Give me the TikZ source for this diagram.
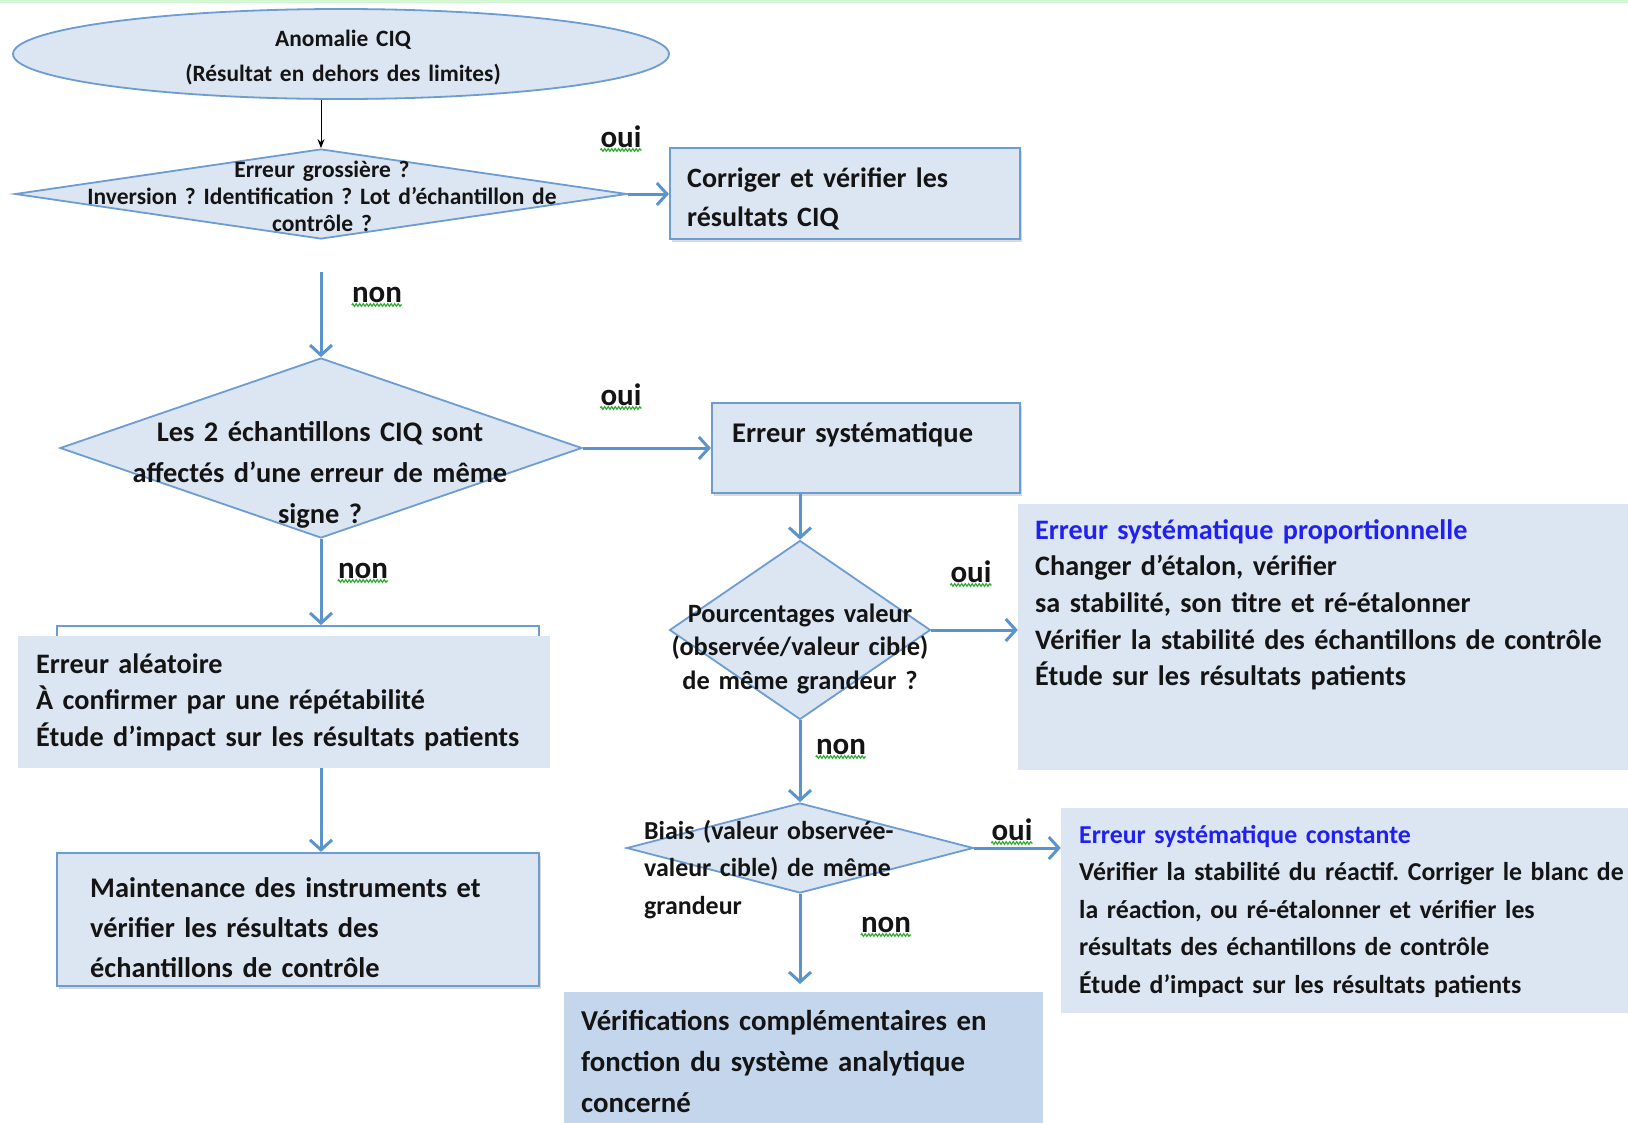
\documentclass[tikz,border=0pt]{standalone}
\usepackage{fontspec}
\setmainfont{Carlito}
\usetikzlibrary{shapes.geometric,arrows.meta,shadows,decorations.pathmorphing}
\definecolor{boxfill}{HTML}{DCE6F2}
\definecolor{boxline}{HTML}{6C9CD2}
\definecolor{arrowc}{HTML}{5B93CC}
\definecolor{verfill}{HTML}{C3D6EC}
\definecolor{bluetxt}{HTML}{2020F0}
\definecolor{spellg}{HTML}{2EAA2E}
\definecolor{topband}{HTML}{D4F7D4}
\definecolor{txtc}{HTML}{141414}
\newcommand\fsz[2]{\fontsize{#1}{#2}\selectfont\bfseries\frenchspacing}
\begin{document}
\frenchspacing
\begin{tikzpicture}[x=1pt,y=-1pt,
  boxst/.style={rectangle, draw=boxline, line width=2.2pt, fill=boxfill, inner sep=0,
    drop shadow={shadow xshift=1.5pt, shadow yshift=-2.5pt, opacity=0.25, fill=black!60}},
  plainbox/.style={rectangle, fill=boxfill, inner sep=0},
  diast/.style={diamond, draw=boxline, line width=1.8pt, fill=boxfill, inner sep=0},
  ellst/.style={ellipse, draw=boxline, line width=1.8pt, fill=boxfill, inner sep=0},
  arr/.style={draw=arrowc, line width=3pt, -{Straight Barb[length=10pt,width=22pt]}},
  thinarr/.style={draw=black, line width=1pt, -{Stealth[length=9pt,width=7pt]}},
  ltxt/.style={inner sep=0, text=txtc, anchor=base west, align=left, text width=#1},
  ctxt/.style={inner sep=0, text=txtc, anchor=base, align=center, text width=#1},
  lbl/.style={inner sep=0, text=txtc, anchor=base, font=\fsz{31}{34}},
  spell/.style={draw=spellg, line width=1.2pt, decorate, decoration={zigzag, segment length=3.5pt, amplitude=1.3pt}}
]
\useasboundingbox (0,0) rectangle (1628,1122);
\fill[topband] (0,0) rectangle (1628,3);

% shapes
\node[ellst, minimum width=656, minimum height=90] (e) at (341,54) {};
\node[diast, minimum width=612, minimum height=90] (d1) at (321,194) {};
\node[boxst, minimum width=350, minimum height=91] (corr) at (845,193.5) {};
\node[diast, minimum width=522, minimum height=180] (d2) at (321,448) {};
\node[boxst, minimum width=308, minimum height=90] (syst) at (866,448) {};
\node[diast, minimum width=261, minimum height=179] (d3) at (800,630) {};
\node[plainbox, minimum width=610, minimum height=266] (prop) at (1323,637) {};
\node[diast, minimum width=347, minimum height=90] (d4) at (800,848) {};
\node[plainbox, minimum width=567, minimum height=205] (const) at (1344.5,910.5) {};
\node[rectangle, fill=verfill, inner sep=0, minimum width=479, minimum height=136] (verif) at (803.5,1060) {};
\node[plainbox, minimum width=532, minimum height=132] (alea) at (284,702) {};
\draw[boxline, line width=2.2pt] (57,636) -- (57,626) -- (539,626) -- (539,636);
\coordinate (aleatop) at (321,625);
\node[boxst, minimum width=482, minimum height=133] (maint) at (298,919.5) {};

% texts
\node[ctxt=640, font=\fsz{23.4}{35}] (et) at (343,46) {Anomalie CIQ\\(Résultat en dehors des limites)};
\node[ctxt=640, font=\fsz{23.5}{27}] (d1t) at (322,177) {Erreur grossière ?\\Inversion ? Identification ? Lot d’échantillon de\\contrôle ?};
\node[ltxt=340, font=\fsz{28}{39}] (corrt) at (687,187) {Corriger et vérifier les\\résultats CIQ};
\node[ctxt=560, font=\fsz{28.4}{41}] (d2t) at (320,441) {Les 2 échantillons CIQ sont\\affectés d’une erreur de même\\signe ?};
\node[ltxt=290, font=\fsz{28.5}{30}] (systt) at (732,442) {Erreur systématique};
\node[ctxt=300, font=\fsz{26.4}{33.5}] (d3t) at (800,622) {Pourcentages valeur\\(observée/valeur cible)\\de même grandeur ?};
\node[ltxt=600, font=\fsz{28.2}{36.7}] (propt) at (1035,539) {\textcolor{bluetxt}{Erreur systématique proportionnelle}\\Changer d’étalon, vérifier\\sa stabilité, son titre et ré-étalonner\\Vérifier la stabilité des échantillons de contrôle\\Étude sur les résultats patients};
\node[ltxt=360, font=\fsz{25.9}{37.5}] (d4t) at (644,839) {Biais (valeur observée-\\valeur cible) de même\\grandeur};
\node[ltxt=560, font=\fsz{25.8}{37.5}] (constt) at (1079,843) {\textcolor{bluetxt}{Erreur systématique constante}\\Vérifier la stabilité du réactif. Corriger le blanc de\\la réaction, ou ré-étalonner et vérifier les\\résultats des échantillons de contrôle\\Étude d’impact sur les résultats patients};
\node[ltxt=470, font=\fsz{28.8}{41}] (verift) at (581,1030) {Vérifications complémentaires en\\fonction du système analytique\\concerné};
\node[ltxt=530, font=\fsz{28.2}{36.5}] (aleat) at (36,673) {Erreur aléatoire\\À confirmer par une répétabilité\\Étude d’impact sur les résultats patients};
\node[ltxt=470, font=\fsz{28.4}{40}] (maintt) at (90,897) {Maintenance des instruments et\\vérifier les résultats des\\échantillons de contrôle};

% connectors
\coordinate (n1start) at (321,272);
\coordinate (verifend) at (800,984);
\draw[thinarr] (e.south -| d1.north) -- (d1.north);
\draw[arr] (d1.east) -- (d1.east -| corr.west);
\draw[arr] (n1start) -- (d2.north);
\draw[arr] (d2.east) -- (syst.west);
\draw[arr] (d3.north |- syst.south) -- (d3.north);
\draw[arr] (d3.east) -- (d3.east -| prop.west);
\draw[arr] (d3.south) -- (d4.north);
\draw[arr] (d4.east) -- (d4.east -| const.west);
\draw[arr] (d4.south) -- (verifend);
\draw[arr] (d2.south) -- (aleatop);
\draw[arr] (d2.south |- alea.south) -- (d2.south |- maint.north);

% labels
\foreach \n/\t/\x/\y in {l1/oui/621/147, l2/non/377/302, l3/oui/621/405, l4/non/363/578, l5/oui/971/582, l6/non/841/754, l7/oui/1012/840, l8/non/886/932}{
  \node[lbl] (\n) at (\x,\y) {\t};
  \draw[spell] ([yshift=-3pt]\n.base west) -- ([yshift=-3pt]\n.base east);
}
\end{tikzpicture}
\end{document}
